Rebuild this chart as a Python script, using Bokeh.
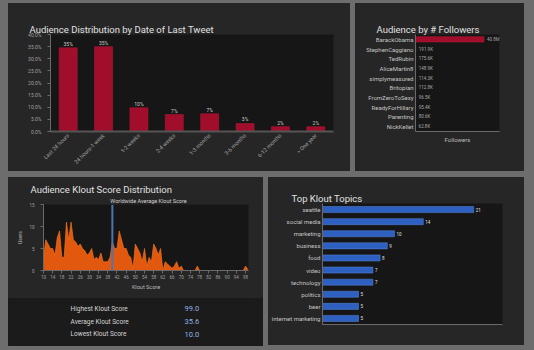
import math
from bokeh.plotting import figure
from bokeh.models import (ColumnDataSource, FactorRange, Range1d, Span, Title, LinearAxis,
                          NumeralTickFormatter, FixedTicker, SingleIntervalTicker)
from bokeh.layouts import column, row
from bokeh.embed import file_html
from bokeh.resources import INLINE
from bokeh.core.properties import value

# ---------------- data ----------------
tweet_categories = ["Last 24 hours", "24 hours-1 week", "1-2 weeks", "2-4 weeks",
                    "1-3 months", "3-6 months", "6-12 months", "> One year"]
tweet_share = [0.345, 0.35, 0.098, 0.07, 0.073, 0.033, 0.02, 0.02]
tweet_labels = ["35%", "35%", "10%", "7%", "7%", "3%", "2%", "2%"]

follower_names = ["BarackObama", "StephenCaggiano", "TedRubin", "AliceMartin8",
                  "simplymeasured", "Britopian", "FromZeroToSexy", "ReadyForHillary",
                  "Parenting", "NickKellet"]
follower_counts = [40800000, 191900, 175600, 148900, 114300, 112800, 96500, 95400, 80600, 62800]
follower_labels = ["40.8M", "191.9K", "175.6K", "148.9K", "114.3K", "112.8K",
                   "96.5K", "95.4K", "80.6K", "62.8K"]

klout_scores = list(range(10, 100))
klout_users = [3, 7, 6, 5, 5, 3.5, 7.5, 9, 3, 3,          # 10-19
               11, 7, 11, 7, 6.5, 5.5, 6, 5, 4.5, 3.5,    # 20-29
               4, 5, 2.5, 3, 2.5, 4, 2, 2, 2, 3,          # 30-39
               6.5, 5, 5, 9, 7, 5, 5, 3.5, 3, 0.5,        # 40-49
               6, 5, 4, 2, 5, 1, 3, 2, 6, 5,              # 50-59
               3.5, 5, 0, 2, 1.5, 1, 0.5, 1, 2, 0.5,      # 60-69
               1, 0, 0, 0, 0, 0, 0, 1, 0, 0,              # 70-79
               0, 0, 0, 0, 0, 0, 0, 0, 0, 0,              # 80-89
               0, 0, 0, 0, 0, 0, 0, 0, 1, 0.3]            # 90-99
klout_ticks = [10, 14, 18, 22, 26, 30, 34, 38, 42, 46, 50, 54, 58, 62, 66, 70,
               74, 78, 82, 86, 90, 94, 98]
klout_range = (10, 99.3)
worldwide_avg_klout = 40

stat_names = ["Highest Klout Score", "Average Klout Score", "Lowest Klout Score"]
stat_values = ["99.0", "35.6", "10.0"]

topic_names = ["seattle", "social media", "marketing", "business", "food", "video",
               "technology", "politics", "beer", "internet marketing"]
topic_counts = [21, 14, 10, 9, 8, 7, 7, 5, 5, 5]

# ---------------- style ----------------
FONT = "Roboto"
PANEL = "#262626"
FRAME = "#161616"
GAP = "#6d6d6d"
AX = "#6a6a6a"


def base(width, height, l, r, t, b, **kw):
    p = figure(width=width, height=height, output_backend="svg", toolbar_location=None,
               min_border_left=l, min_border_right=r, min_border_top=t, min_border_bottom=b,
               border_fill_color=PANEL, background_fill_color=FRAME, outline_line_color=None,
               title=None, styles={"background-color": PANEL}, **kw)
    p.grid.visible = False
    return p


def add_spacer(p, px):
    # empty axis above the frame (no ticks, panel-coloured) that only reserves vertical space
    ax = LinearAxis(ticker=FixedTicker(ticks=[]), axis_line_color=None,
                    major_tick_line_color=PANEL, minor_tick_line_color=None,
                    major_tick_in=0, major_tick_out=px, minor_tick_out=0,
                    major_label_standoff=0)
    p.add_layout(ax, "above")


def add_title(p, text, offset, size="9.5px", color="#e0e0e0", standoff=0):
    p.add_layout(Title(text=text, align="left", offset=offset, standoff=standoff,
                       vertical_align="bottom", text_font=FONT, text_font_size=size,
                       text_font_style="normal", text_color=color), "above")


def style_axis(ax, size="5px"):
    ax.axis_line_color = AX
    ax.major_tick_line_color = AX
    ax.minor_tick_line_color = None
    ax.major_tick_in = 0
    ax.major_tick_out = 3
    ax.major_label_text_color = "#a0a0a0"
    ax.major_label_text_font = FONT
    ax.major_label_text_font_size = size
    ax.axis_label_text_font = FONT
    ax.axis_label_text_font_style = "normal"
    ax.axis_label_text_color = "#bdbdbd"


# ---- panel 1: distribution by date of last tweet ----
p1 = base(342, 168, 42, 17, 31, 40,
          x_range=FactorRange(factors=tweet_categories, range_padding=0),
          y_range=Range1d(0, 0.4))
style_axis(p1.yaxis[0])
p1.yaxis.ticker = SingleIntervalTicker(interval=0.05)
p1.yaxis.formatter = NumeralTickFormatter(format="0.0%")
style_axis(p1.xaxis[0], "5.5px")
p1.xaxis.major_tick_line_color = None
p1.xaxis.major_tick_out = 0
p1.xaxis.axis_line_width = 2
p1.xaxis.axis_line_color = "#555555"
p1.xaxis.major_label_orientation = math.pi / 4
p1.xaxis.major_label_standoff = 3
add_spacer(p1, 14)
add_title(p1, "Audience Distribution by Date of Last Tweet", -21)
s1 = ColumnDataSource(dict(cat=tweet_categories, v=tweet_share, lab=tweet_labels))
p1.vbar(x="cat", top="v", width=0.51, source=s1, fill_color="#a10e2b", line_color="#b81a38",
        line_width=0.5)
p1.text(x="cat", y="v", text="lab", source=s1, text_align="center", text_baseline="bottom",
        y_offset=-1, text_font=value(FONT), text_font_size="5px", text_color="#c8c8c8")

# ---- panel 2: audience by followers ----
p2 = base(169, 168, 60, 25, 25, 21,
          y_range=FactorRange(factors=follower_names[::-1], range_padding=0),
          x_range=Range1d(0, 50000000))
style_axis(p2.yaxis[0], "6px")
p2.yaxis.major_tick_line_color = None
p2.yaxis.major_tick_out = 0
p2.yaxis.major_label_text_color = "#c4c4c4"
p2.yaxis.major_label_standoff = 2
style_axis(p2.xaxis[0])
p2.xaxis.ticker = FixedTicker(ticks=[])
p2.xaxis.axis_label = "Followers"
p2.xaxis.axis_label_text_font_size = "6px"
p2.xaxis.axis_label_standoff = 4
add_spacer(p2, 8)
add_title(p2, "Audience by # Followers", -39)
s2 = ColumnDataSource(dict(n=follower_names, v=follower_counts, lab=follower_labels))
p2.hbar(y="n", right="v", height=0.55, source=s2, fill_color="#a10e2b", line_color="#b81a38",
        line_width=0.5)
p2.text(x="v", y="n", text="lab", source=s2, x_offset=3, text_baseline="middle",
        text_font=value(FONT), text_font_size="4.5px", text_color="#a8a8a8")

# ---- panel 3a: klout distribution ----
P3_FRAME_W = 255 - 35 - 15
p3 = base(255, 121, 35, 15, 27, 28,
          x_range=Range1d(*klout_range), y_range=Range1d(0, 15))
avg_px = (worldwide_avg_klout - klout_range[0]) / (klout_range[1] - klout_range[0]) * P3_FRAME_W
add_title(p3, "Worldwide Average Klout Score", avg_px - 2, size="5.5px", color="#d0d0d0",
          standoff=2)
add_title(p3, "Audience Klout Score Distribution", -13)
s3 = ColumnDataSource(dict(x=klout_scores, y=klout_users))
p3.varea(x="x", y1=0, y2="y", source=s3, fill_color="#e2580e")
p3.line(x="x", y="y", source=s3, line_color="#ff7a20", line_width=0.6)
p3.add_layout(Span(location=worldwide_avg_klout, dimension="height",
                   line_color="#4f74b2", line_width=2))
style_axis(p3.xaxis[0], "4.5px")
p3.xaxis.ticker = FixedTicker(ticks=klout_ticks)
p3.xaxis.axis_label = "Klout Score"
p3.xaxis.axis_label_text_font_size = "5.5px"
p3.xaxis.axis_label_standoff = 2
p3.xaxis.major_label_standoff = 1
style_axis(p3.yaxis[0], "4.5px")
p3.yaxis.ticker = SingleIntervalTicker(interval=5)
p3.yaxis.axis_label = "Users"
p3.yaxis.axis_label_text_font_size = "5px"
p3.yaxis.axis_label_standoff = 3

# ---- panel 3b: stats ----
STATS_BG = "#1b1b1b"
p3b = figure(width=255, height=48, output_backend="svg", toolbar_location=None, title=None,
             min_border_left=35, min_border_right=15, min_border_top=4, min_border_bottom=6,
             border_fill_color=STATS_BG, background_fill_color=STATS_BG,
             outline_line_color=None, x_range=Range1d(0, 1),
             y_range=FactorRange(factors=stat_names[::-1], range_padding=0),
             styles={"background-color": STATS_BG})
p3b.axis.visible = False
p3b.grid.visible = False
s3b = ColumnDataSource(dict(n=stat_names, v=stat_values))
p3b.text(x=0.132, y="n", text="n", source=s3b, text_baseline="middle",
         text_font=value(FONT), text_font_size="6.5px", text_color="#d4d4d4")
p3b.text(x=0.688, y="n", text="v", source=s3b, text_baseline="middle",
         text_font=value(FONT), text_font_size="7.5px", text_color="#8fb3e0")

# ---- panel 4: top klout topics ----
p4 = base(256, 168, 53, 22, 26, 21,
          y_range=FactorRange(factors=topic_names[::-1], range_padding=0),
          x_range=Range1d(0, 25))
style_axis(p4.yaxis[0], "6px")
p4.yaxis.major_tick_line_color = None
p4.yaxis.major_tick_out = 0
p4.yaxis.major_label_text_color = "#c4c4c4"
p4.yaxis.major_label_standoff = 2
style_axis(p4.xaxis[0])
p4.xaxis.ticker = FixedTicker(ticks=[])
add_spacer(p4, 9)
add_title(p4, "Top Klout Topics", -31)
s4 = ColumnDataSource(dict(n=topic_names, v=topic_counts))
p4.hbar(y="n", right="v", height=0.5, source=s4, fill_color="#2d60c0", line_color="#5a88dc",
        line_width=0.5)
p4.text(x="v", y="n", text="v", source=s4, x_offset=2, text_baseline="middle",
        text_font=value(FONT), text_font_size="4.5px", text_color="#e0e0e0")

# ---------------- layout ----------------
p1.margin = (3, 0, 0, 8)
p2.margin = (3, 0, 0, 5)
p3.margin = (6, 0, 0, 8)
p3b.margin = (0, 0, 0, 8)
p4.margin = (6, 0, 0, 5)
top = row(p1, p2, spacing=0)
col3 = column(p3, p3b, spacing=0)
bottom = row(col3, p4, spacing=0)
page = column(top, bottom, spacing=0, width=534, height=350,
              styles={"background-color": GAP})

open("out.html", "w").write(file_html(page, INLINE))
